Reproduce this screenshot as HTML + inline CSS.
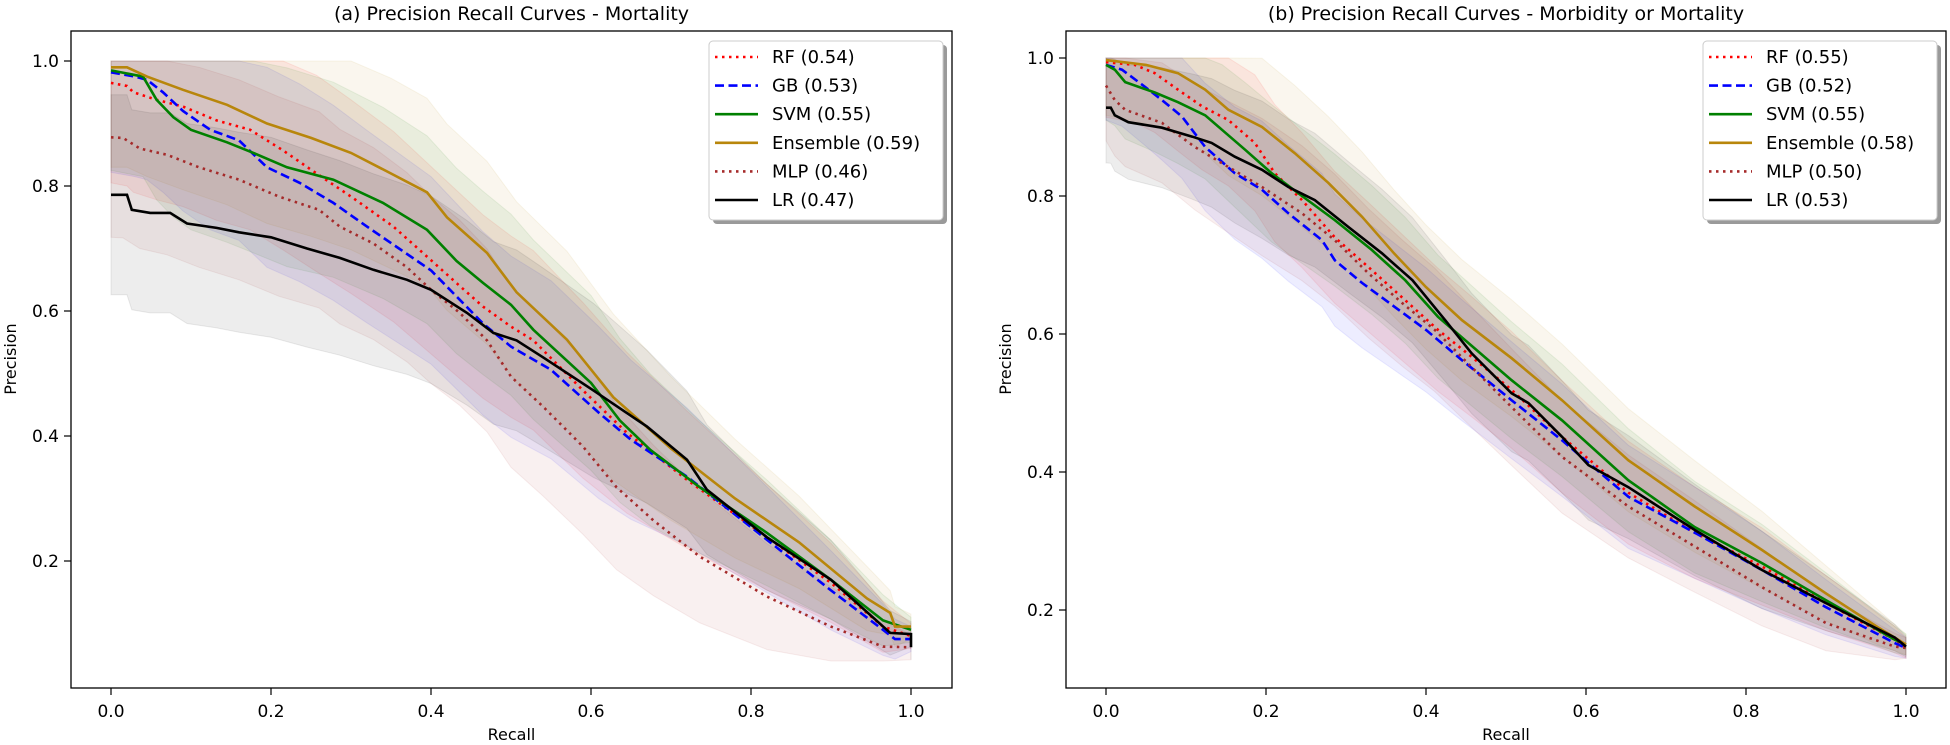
<!DOCTYPE html>
<html><head><meta charset="utf-8">
<style>
html,body{margin:0;padding:0;background:#fff;}
svg{display:block;font-family:"DejaVu Sans","Liberation Sans",sans-serif;}
</style></head>
<body>
<svg id="fig" width="1950" height="745" viewBox="0 0 1950 745" xmlns="http://www.w3.org/2000/svg"></svg>
<script>
// ---------- Data: panel (a) Mortality ----------
const modelNames = ["RF","GB","SVM","Ensemble","MLP","LR"];
const aucA = ["0.54","0.53","0.55","0.59","0.46","0.47"];
const aucB = ["0.55","0.52","0.55","0.58","0.50","0.53"];
const xTicks = [0,0.2,0.4,0.6,0.8,1.0];
const xTickLabels = ["0.0","0.2","0.4","0.6","0.8","1.0"];
const yTicksA = [0.2,0.4,0.6,0.8,1.0];
const yTicksB = [0.2,0.4,0.6,0.8,1.0];
const yTickLabels = ["0.2","0.4","0.6","0.8","1.0"];

const rfA_r = [0,0.02,0.028,0.057,0.09,0.132,0.174,0.215,0.257,0.30,0.353,0.395,0.436,0.465,0.50,0.528,0.59,0.645,0.72,0.82,0.90,0.965,1.0];
const rfA_p = [0.965,0.96,0.95,0.938,0.927,0.905,0.89,0.857,0.82,0.783,0.735,0.687,0.64,0.607,0.575,0.553,0.473,0.405,0.33,0.238,0.165,0.095,0.08];
const gbA_r = [0,0.03,0.045,0.065,0.09,0.124,0.16,0.195,0.236,0.278,0.32,0.36,0.40,0.436,0.465,0.50,0.55,0.61,0.65,0.72,0.82,0.90,0.965,0.98,1.0];
const gbA_p = [0.982,0.975,0.97,0.95,0.92,0.89,0.873,0.83,0.805,0.773,0.735,0.70,0.665,0.618,0.58,0.543,0.506,0.437,0.394,0.335,0.234,0.153,0.09,0.075,0.075];
const svmA_r = [0,0.04,0.057,0.078,0.10,0.145,0.178,0.22,0.278,0.34,0.395,0.432,0.465,0.50,0.528,0.60,0.636,0.674,0.736,0.82,0.90,0.965,1.0];
const svmA_p = [0.985,0.975,0.938,0.91,0.89,0.87,0.853,0.83,0.81,0.773,0.73,0.68,0.645,0.61,0.57,0.485,0.425,0.378,0.318,0.245,0.17,0.105,0.09];
const ensA_r = [0,0.02,0.045,0.09,0.145,0.195,0.25,0.30,0.35,0.395,0.42,0.47,0.507,0.57,0.628,0.70,0.78,0.86,0.945,0.974,0.98,1.0];
const ensA_p = [0.99,0.99,0.975,0.954,0.93,0.90,0.877,0.853,0.82,0.79,0.75,0.693,0.63,0.554,0.462,0.38,0.30,0.23,0.14,0.117,0.095,0.095];
const mlpA_r = [0,0.015,0.036,0.07,0.11,0.16,0.21,0.26,0.286,0.328,0.37,0.40,0.436,0.47,0.50,0.54,0.59,0.632,0.678,0.736,0.82,0.90,0.965,1.0];
const mlpA_p = [0.878,0.877,0.86,0.85,0.83,0.81,0.783,0.762,0.735,0.708,0.67,0.634,0.597,0.553,0.495,0.447,0.383,0.318,0.265,0.207,0.143,0.095,0.063,0.062];
const lrA_r = [0,0.02,0.026,0.049,0.074,0.095,0.132,0.16,0.20,0.245,0.286,0.328,0.37,0.40,0.445,0.478,0.507,0.54,0.603,0.67,0.72,0.745,0.82,0.90,0.974,1.0,1.0];
const lrA_p = [0.786,0.786,0.762,0.757,0.757,0.74,0.733,0.726,0.718,0.70,0.685,0.666,0.65,0.634,0.597,0.565,0.553,0.526,0.473,0.415,0.362,0.314,0.238,0.17,0.085,0.083,0.062];

// ---------- Data: panel (b) Morbidity or Mortality ----------
const rfB_r = [0,0.036,0.061,0.09,0.12,0.153,0.186,0.211,0.245,0.286,0.328,0.374,0.415,0.457,0.507,0.57,0.653,0.736,0.82,0.90,0.986,1.0];
const rfB_p = [0.994,0.99,0.978,0.954,0.93,0.91,0.877,0.833,0.794,0.74,0.697,0.649,0.606,0.567,0.519,0.451,0.37,0.312,0.263,0.21,0.157,0.145];
const gbB_r = [0,0.02,0.049,0.07,0.095,0.124,0.161,0.195,0.228,0.27,0.286,0.32,0.36,0.40,0.445,0.507,0.57,0.653,0.736,0.82,0.90,0.986,1.0];
const gbB_p = [0.99,0.983,0.958,0.939,0.915,0.871,0.833,0.809,0.775,0.736,0.707,0.674,0.64,0.606,0.562,0.504,0.446,0.364,0.312,0.258,0.204,0.152,0.145];
const svmB_r = [0,0.011,0.024,0.061,0.09,0.124,0.145,0.174,0.207,0.245,0.286,0.332,0.374,0.415,0.453,0.507,0.57,0.653,0.736,0.82,0.90,0.986,1.0];
const svmB_p = [0.99,0.983,0.965,0.95,0.936,0.917,0.896,0.867,0.833,0.80,0.765,0.722,0.678,0.625,0.587,0.533,0.475,0.388,0.32,0.268,0.214,0.157,0.15];
const ensB_r = [0,0.05,0.09,0.124,0.153,0.195,0.236,0.278,0.32,0.36,0.40,0.445,0.507,0.57,0.653,0.736,0.82,0.90,0.965,1.0];
const ensB_p = [0.997,0.99,0.978,0.954,0.925,0.90,0.862,0.819,0.77,0.717,0.668,0.62,0.565,0.504,0.417,0.35,0.287,0.224,0.175,0.15];
const mlpB_r = [0,0.011,0.024,0.07,0.111,0.153,0.195,0.245,0.286,0.328,0.37,0.411,0.457,0.507,0.57,0.653,0.736,0.82,0.90,0.986,1.0];
const mlpB_p = [0.96,0.939,0.925,0.906,0.871,0.842,0.813,0.775,0.736,0.688,0.645,0.606,0.552,0.494,0.422,0.35,0.292,0.233,0.181,0.147,0.145];
const lrB_r = [0,0.006,0.011,0.028,0.07,0.108,0.132,0.161,0.195,0.228,0.261,0.303,0.345,0.383,0.424,0.457,0.507,0.528,0.57,0.603,0.653,0.736,0.82,0.90,0.986,1.0];
const lrB_p = [0.928,0.928,0.917,0.907,0.899,0.886,0.877,0.857,0.838,0.813,0.794,0.755,0.717,0.678,0.62,0.572,0.514,0.50,0.451,0.41,0.378,0.316,0.258,0.21,0.16,0.147];

// confidence band half-widths (read from shaded regions)
const bandR = [0,0.2,0.4,0.6,0.8,0.95,1.0];
const bandHalfA = [0.16,0.16,0.15,0.14,0.09,0.05,0.02];
const bandHalfB = [0.08,0.10,0.09,0.08,0.06,0.03,0.015];

const colors = ["#ff0000","#0000ff","#008000","#b8860b","#a52a2a","#000000"];
const dashes = ["2.5,4.5","9,4.5",null,null,"2.5,4.5",null];

const NS="http://www.w3.org/2000/svg";
const fig=document.getElementById('fig');
function mk(tag,attrs,parent){const e=document.createElementNS(NS,tag);for(const k in attrs)e.setAttribute(k,attrs[k]);(parent||fig).appendChild(e);return e;}
function interp(xs,ys,x){for(let i=1;i<xs.length;i++){if(x<=xs[i]){const t=(x-xs[i-1])/(xs[i]-xs[i-1]||1);return ys[i-1]+t*(ys[i]-ys[i-1]);}}return ys[ys.length-1];}

function panel(cfg){
  const g=mk('g',{});
  
  
  const X=r=>cfg.x0+800*r;
  const Y=p=>cfg.yZero-cfg.yScale*p;
  cfg.series.forEach((s,i)=>{
    const up=[],lo=[];
    s.r.forEach((r,k)=>{const h=interp(bandR,cfg.band,r);up.push([X(r),Y(Math.min(1,s.p[k]+h))]);lo.push([X(r),Y(Math.max(0.04,s.p[k]-h))]);});
    const pts=up.concat(lo.reverse()).map(q=>q[0].toFixed(1)+','+q[1].toFixed(1)).join(' ');
    const b=mk('polygon',{points:pts,fill:colors[i],'fill-opacity':'0.07',stroke:colors[i],'stroke-opacity':'0.08'},g);
    
    
  });
  cfg.series.forEach((s,i)=>{
    const pts=s.r.map((r,k)=>X(r).toFixed(1)+','+Y(s.p[k]).toFixed(1)).join(' ');
    const a={points:pts,fill:'none',stroke:colors[i],'stroke-width':'2.6','stroke-linejoin':'miter'};
    if(dashes[i])a['stroke-dasharray']=dashes[i];
    const l=mk('polyline',a,g);
    
    
  });
  const fr=mk('rect',{x:cfg.left,y:31,width:cfg.right-cfg.left,height:657,fill:'none',stroke:'#000','stroke-width':'1.3'},g);
  
  
  xTicks.forEach((t,i)=>{
    mk('line',{x1:X(t),x2:X(t),y1:688,y2:695,stroke:'#000','stroke-width':'1.2'},g);
    const tx=mk('text',{x:X(t),y:717,'font-size':'17','text-anchor':'middle'},g);
    tx.textContent=xTickLabels[i];
    
    
  });
  cfg.yTicks.forEach((t,i)=>{
    mk('line',{x1:cfg.left-7,x2:cfg.left,y1:Y(t),y2:Y(t),stroke:'#000','stroke-width':'1.2'},g);
    const tx=mk('text',{x:cfg.left-12,y:Y(t)+6,'font-size':'17','text-anchor':'end'},g);
    tx.textContent=yTickLabels[i];
    
    
  });
  const cx=(cfg.left+cfg.right)/2;
  const ti=mk('text',{x:cx,y:20,'font-size':'19','text-anchor':'middle'},g);
  ti.textContent=cfg.title;
  
  
  const xl=mk('text',{x:cx,y:740,'font-size':'16','text-anchor':'middle'},g);
  xl.textContent='Recall';
  
  
  const yl=mk('text',{x:0,y:0,'font-size':'16','text-anchor':'middle',transform:'translate('+(cfg.left-55)+',359) rotate(-90)'},g);
  yl.textContent='Precision';
  
  
  const lx=cfg.right-243, ly=41;
  const lg=mk('g',{},g);
  
  
  mk('rect',{x:lx+4,y:ly+4,width:234,height:179,rx:4,fill:'#888','fill-opacity':'0.85'},lg);
  mk('rect',{x:lx,y:ly,width:234,height:179,rx:4,fill:'#fff',stroke:'#ccc','stroke-width':'1'},lg);
  modelNames.forEach((n,i)=>{
    const yy=ly+16+i*28.6;
    const a={x1:lx+6,x2:lx+49,y1:yy,y2:yy,stroke:colors[i],'stroke-width':'2.6'};
    if(dashes[i])a['stroke-dasharray']=dashes[i];
    mk('line',a,lg);
    const t=mk('text',{x:lx+63,y:yy+6,'font-size':'18'},lg);
    t.textContent=n+' ('+cfg.auc[i]+')';
    
    
  });
}

panel({name:'panel-a-mortality',title:'(a) Precision Recall Curves - Mortality',left:71,right:952,x0:111,yZero:686,yScale:625,yTicks:yTicksA,auc:aucA,band:bandHalfA,
  series:[{r:rfA_r,p:rfA_p},{r:gbA_r,p:gbA_p},{r:svmA_r,p:svmA_p},{r:ensA_r,p:ensA_p},{r:mlpA_r,p:mlpA_p},{r:lrA_r,p:lrA_p}]});
panel({name:'panel-b-morbidity-or-mortality',title:'(b) Precision Recall Curves - Morbidity or Mortality',left:1066,right:1946,x0:1106,yZero:748,yScale:690,yTicks:yTicksB,auc:aucB,band:bandHalfB,
  series:[{r:rfB_r,p:rfB_p},{r:gbB_r,p:gbB_p},{r:svmB_r,p:svmB_p},{r:ensB_r,p:ensB_p},{r:mlpB_r,p:mlpB_p},{r:lrB_r,p:lrB_p}]});
</script>
</body></html>
